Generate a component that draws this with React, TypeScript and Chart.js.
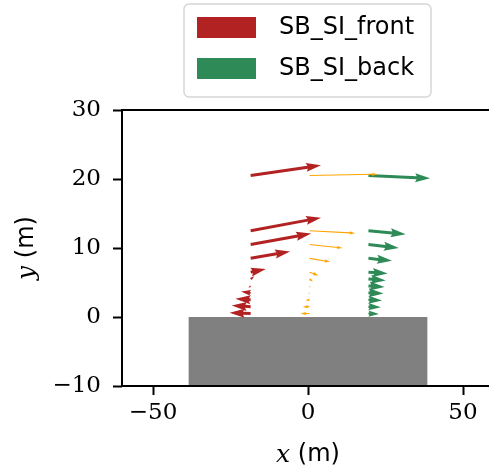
import { useEffect, useRef } from "react";
import { Chart, registerables } from "chart.js";

Chart.register(...registerables);

// Sample heights (m) shared by all three measurement columns
const HEIGHTS = [0.5, 1.5, 2.5, 3.5, 4.5, 5.5, 6.5, 8.5, 10.5, 12.5, 20.5];

// Column positions (m)
const FRONT_X = -18.5;
const MID_X = 0.5;
const BACK_X = 19.5;

// Velocity components per height (u: horizontal, v: vertical), in plot units
const FRONT_U = [-6.8, -6.1, -4.9, -3.1, -0.7, 1.2, 4.9, 12.7, 19.5, 22.7, 22.7];
const FRONT_V = [0.1, 0.15, 0.15, 0.2, -0.3, 0.4, 0.45, 1.0, 1.6, 1.9, 1.5];

const MID_U = [-2.9, -2.2, -1.3, -0.4, 0.2, 1.1, 2.9, 6.6, 10.6, 14.7, 21.9];
const MID_V = [0.0, -0.05, -0.1, -0.2, -0.25, -0.4, -0.5, -0.5, -0.5, -0.35, 0.2];

const BACK_U = [3.4, 4.0, 4.4, 4.9, 5.2, 5.6, 6.2, 7.6, 9.8, 12.0, 19.9];
const BACK_V = [-0.05, -0.1, -0.1, -0.1, -0.15, -0.2, -0.2, -0.35, -0.5, -0.5, -0.4];

// Building block (m)
const BUILDING_X = [-38.5, 38.5];
const BUILDING_Y = [-10, 0];

// Axes
const X_RANGE = [-60, 60];
const Y_RANGE = [-10, 30];
const X_TICKS = [-50, 0, 50];
const Y_TICKS = [-10, 0, 10, 20, 30];

const RED = "#b22222";
const GREEN = "#2e8b57";
const ORANGE = "#ffa500";
const GREY = "#808080";

type Vec = { x: number; y: number; u: number; v: number };

const column = (x0: number, us: number[], vs: number[]): Vec[] =>
  HEIGHTS.map((h, i) => ({ x: x0, y: h, u: us[i], v: vs[i] }));

const fmt = (v: number) => (v < 0 ? "\u2212" + Math.abs(v) : String(v));

// Quiver-style arrow polygon (shaft width w, head 3w wide, 5w long)
function drawArrow(ctx: CanvasRenderingContext2D, x0: number, y0: number, x1: number, y1: number, w: number) {
  const dx = x1 - x0;
  const dy = y1 - y0;
  const L = Math.hypot(dx, dy);
  if (L < 0.01) return;
  const hl = 5 * w;
  const hal = 4.5 * w;
  const hw = 3 * w;
  let pts: [number, number][];
  if (L >= hl) {
    pts = [
      [0, w / 2],
      [L - hal, w / 2],
      [L - hl, hw / 2],
      [L, 0],
      [L - hl, -hw / 2],
      [L - hal, -w / 2],
      [0, -w / 2],
    ];
  } else {
    const s = L / hl;
    pts = [
      [0, w / 2],
      [hl - hal, w / 2],
      [0, hw / 2],
      [hl, 0],
      [0, -hw / 2],
      [hl - hal, -w / 2],
      [0, -w / 2],
    ].map(([a, b]) => [a * s, b * s] as [number, number]);
  }
  const c = dx / L;
  const sn = dy / L;
  ctx.beginPath();
  pts.forEach(([a, b], i) => {
    const px = x0 + a * c - b * sn;
    const py = y0 + a * sn + b * c;
    if (i === 0) ctx.moveTo(px, py);
    else ctx.lineTo(px, py);
  });
  ctx.closePath();
  ctx.fill();
}

const quiverPlugin = {
  id: "quiver",
  beforeDatasetsDraw(chart: any) {
    const { ctx, chartArea, scales } = chart;
    const xs = scales.x;
    const ys = scales.y;
    ctx.save();
    ctx.beginPath();
    ctx.rect(chartArea.left, chartArea.top, chartArea.width, chartArea.height);
    ctx.clip();
    const l = xs.getPixelForValue(BUILDING_X[0]);
    const r = xs.getPixelForValue(BUILDING_X[1]);
    const t = ys.getPixelForValue(BUILDING_Y[1]);
    const b = ys.getPixelForValue(BUILDING_Y[0]);
    ctx.fillStyle = GREY;
    ctx.fillRect(l, t, r - l, b - t);
    ctx.restore();
  },
  afterDatasetsDraw(chart: any) {
    const { ctx, chartArea, scales } = chart;
    const xs = scales.x;
    const ys = scales.y;
    ctx.save();
    ctx.beginPath();
    ctx.rect(chartArea.left, chartArea.top, chartArea.width, chartArea.height);
    ctx.clip();
    chart.data.datasets.forEach((ds: any) => {
      ctx.fillStyle = ds.backgroundColor;
      (ds.data as Vec[]).forEach((p) => {
        const x0 = xs.getPixelForValue(p.x);
        const y0 = ys.getPixelForValue(p.y);
        const x1 = xs.getPixelForValue(p.x + p.u);
        const y1 = ys.getPixelForValue(p.y + p.v);
        drawArrow(ctx, x0, y0, x1, y1, ds.shaftWidth);
      });
    });
    ctx.restore();

    // axes frame
    ctx.save();
    ctx.strokeStyle = "#000";
    ctx.lineWidth = 2;
    ctx.strokeRect(chartArea.left, chartArea.top, chartArea.width, chartArea.height);
    ctx.restore();
  },
  afterDraw(chart: any) {
    const { ctx, chartArea } = chart;
    ctx.save();
    ctx.fillStyle = "#000";
    ctx.textBaseline = "middle";

    // axis titles: italic variable + upright unit
    const drawTitle = (v: string) => {
      ctx.font = "italic 25px 'DejaVu Serif'";
      const w1 = ctx.measureText(v).width;
      ctx.font = "24px 'DejaVu Sans'";
      const w2 = ctx.measureText(" (m)").width;
      const start = -(w1 + w2) / 2;
      ctx.textAlign = "left";
      ctx.font = "italic 25px 'DejaVu Serif'";
      ctx.fillText(v, start, 0);
      ctx.font = "24px 'DejaVu Sans'";
      ctx.fillText(" (m)", start + w1, 0);
    };
    ctx.save();
    ctx.translate((chartArea.left + chartArea.right) / 2, 455);
    drawTitle("x");
    ctx.restore();
    ctx.save();
    ctx.translate(27, (chartArea.top + chartArea.bottom) / 2);
    ctx.rotate(-Math.PI / 2);
    drawTitle("y");
    ctx.restore();

    // legend
    const items = chart.data.datasets.filter((d: any) => d.label);
    const bx = 184, by = 4, bw = 247, bh = 93, r = 5;
    ctx.beginPath();
    ctx.moveTo(bx + r, by);
    ctx.arcTo(bx + bw, by, bx + bw, by + bh, r);
    ctx.arcTo(bx + bw, by + bh, bx, by + bh, r);
    ctx.arcTo(bx, by + bh, bx, by, r);
    ctx.arcTo(bx, by, bx + bw, by, r);
    ctx.closePath();
    ctx.fillStyle = "rgba(255,255,255,0.8)";
    ctx.fill();
    ctx.strokeStyle = "#d6d6d6";
    ctx.lineWidth = 1.5;
    ctx.stroke();
    items.forEach((d: any, i: number) => {
      const cy = 27.5 + i * 41;
      ctx.fillStyle = d.backgroundColor;
      ctx.fillRect(197, cy - 10.5, 59, 21);
      ctx.fillStyle = "#000";
      ctx.font = "24px 'DejaVu Sans'";
      ctx.textAlign = "left";
      ctx.fillText(d.label, 279, cy);
    });
    ctx.restore();
  },
};

export default function App() {
  const ref = useRef<HTMLCanvasElement>(null);

  useEffect(() => {
    if (!ref.current) return;
    const tickFont = { family: "'DejaVu Serif'", size: 23 };
    const chart = new Chart(ref.current, {
      type: "scatter",
      data: {
        datasets: [
          { label: "SB_SI_front", data: column(FRONT_X, FRONT_U, FRONT_V) as any, backgroundColor: RED, pointRadius: 0, shaftWidth: 3 } as any,
          { label: "SB_SI_back", data: column(BACK_X, BACK_U, BACK_V) as any, backgroundColor: GREEN, pointRadius: 0, shaftWidth: 3 } as any,
          { label: "", data: column(MID_X, MID_U, MID_V) as any, backgroundColor: ORANGE, pointRadius: 0, shaftWidth: 1.1 } as any,
        ],
      },
      options: {
        animation: false,
        responsive: false,
        devicePixelRatio: 1,
        layout: { padding: { top: 110, right: 6, left: 0, bottom: 0 } },
        plugins: { legend: { display: false }, tooltip: { enabled: false } },
        scales: {
          x: {
            type: "linear",
            min: X_RANGE[0],
            max: X_RANGE[1],
            afterFit: (s: any) => { s.height = 88; },
            afterBuildTicks: (s: any) => { s.ticks = X_TICKS.map((v) => ({ value: v })); },
            grid: { drawOnChartArea: false, drawTicks: true, tickLength: 9, tickWidth: 2, tickColor: "#000" },
            border: { display: false },
            ticks: { color: "#000", padding: 4, maxRotation: 0, font: tickFont, callback: (v: any) => fmt(Number(v)) },
          },
          y: {
            type: "linear",
            min: Y_RANGE[0],
            max: Y_RANGE[1],
            afterFit: (s: any) => { s.width = 122; },
            afterBuildTicks: (s: any) => { s.ticks = Y_TICKS.map((v) => ({ value: v })); },
            grid: { drawOnChartArea: false, drawTicks: true, tickLength: 9, tickWidth: 2, tickColor: "#000" },
            border: { display: false },
            ticks: { color: "#000", padding: 12, font: tickFont, callback: (v: any) => fmt(Number(v)) },
          },
        },
      },
      plugins: [quiverPlugin],
    });
    return () => chart.destroy();
  }, []);

  return (
    <div style={{ width: 489, height: 474, overflow: "hidden", position: "relative" }}>
      <style>{"html,body{margin:0;padding:0;overflow:hidden;background:#fff}"}</style>
      <canvas ref={ref} width={500} height={474} style={{ display: "block" }} />
    </div>
  );
}
